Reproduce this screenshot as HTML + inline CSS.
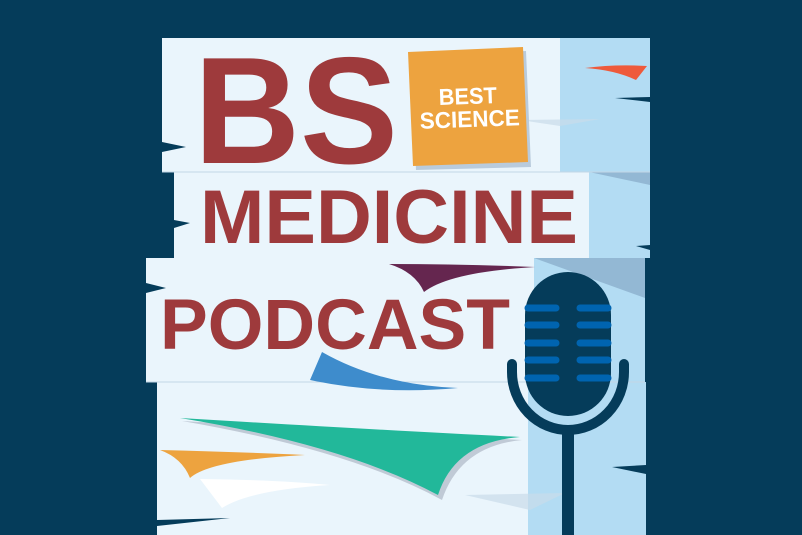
<!DOCTYPE html>
<html><head><style>html,body{margin:0;padding:0;background:#053c5a}svg{display:block}</style></head>
<body>
<svg width="802" height="535" viewBox="0 0 802 535" xmlns="http://www.w3.org/2000/svg">
<rect width="802" height="535" fill="#053c5a"/>
<rect x="157" y="382" width="489" height="153" fill="#eaf5fc"/>
<rect x="528" y="382" width="118" height="153" fill="#b3dcf3"/>
<rect x="146" y="258" width="499" height="124" fill="#eaf5fc"/>
<rect x="534" y="258" width="111" height="124" fill="#b3dcf3"/>
<polygon points="534,258 645,258 645,298" fill="#93b8d4"/>
<line x1="146" y1="382" x2="645" y2="382" stroke="#c3d6e6" stroke-width="1"/>
<rect x="174" y="172" width="476" height="86" fill="#eaf5fc"/>
<rect x="589" y="172" width="61" height="86" fill="#b3dcf3"/>
<polygon points="589,172 650,172 650,185" fill="#93b8d4"/>
<rect x="162" y="38" width="488" height="134" fill="#eaf5fc"/>
<rect x="560" y="38" width="90" height="134" fill="#b3dcf3"/>
<line x1="162" y1="172" x2="650" y2="172" stroke="#c3d6e6" stroke-width="1"/>
<polygon points="162,142 186,147 162,152" fill="#053c5a"/>
<polygon points="174,220 190,223 174,228" fill="#053c5a"/>
<polygon points="146,283 166,288 146,293" fill="#053c5a"/>
<polygon points="157,520 230,518 157,526" fill="#053c5a"/>
<polygon points="615,98 650,97 650,102" fill="#053c5a"/>
<polygon points="636,246 650,245 650,250" fill="#053c5a"/>
<polygon points="612,467 646,465 646,474" fill="#053c5a"/>
<polygon points="520,120 600,119 560,126" fill="#c9dcea" opacity="0.7"/>
<polygon points="465,495 565,493 530,510" fill="#c9dcea" opacity="0.7"/>
<path d="M585,68 Q615,64 647,66 L636,80 Q615,70 585,68Z" fill="#ee5a3b"/>
<polygon points="411,56 526,51 531,167 416,170" fill="#b9cbdc"/>
<polygon points="408,52 523,47 528,162 413,166" fill="#eda33f"/>
<text x="468" y="104" font-family="Liberation Sans, sans-serif" font-weight="bold" font-size="23" fill="#fff" text-anchor="middle" textLength="58" lengthAdjust="spacingAndGlyphs" transform="rotate(-2 468 104)">BEST</text>
<text x="470" y="127" font-family="Liberation Sans, sans-serif" font-weight="bold" font-size="23" fill="#fff" text-anchor="middle" textLength="100" lengthAdjust="spacingAndGlyphs" transform="rotate(-2 470 127)">SCIENCE</text>
<text x="194" y="163" font-family="Liberation Sans, sans-serif" font-weight="bold" font-size="152" fill="#9e3a3c" textLength="204" lengthAdjust="spacingAndGlyphs">BS</text>
<text x="200" y="243" font-family="Liberation Sans, sans-serif" font-weight="bold" font-size="76" fill="#9e3a3c" textLength="378" lengthAdjust="spacingAndGlyphs">MEDICINE</text>
<path d="M389,264 Q460,264 535,267 Q450,272 424,292 Q415,272 389,264Z" fill="#65264f"/>
<path d="M322,352 Q380,385 458,388 Q380,395 310,380Z" fill="#3e8ccc"/>
<path d="M182,421 Q380,432 522,440 Q460,446 442,500 Q350,450 182,421Z" fill="#c0cad6"/>
<path d="M180,418 Q380,430 520,437 Q455,442 438,495 Q345,445 180,418Z" fill="#22b89a"/>
<path d="M160,450 Q240,452 305,455 Q210,460 190,478 Q182,458 160,450Z" fill="#eda33f"/>
<path d="M200,479 Q280,480 330,485 Q250,490 222,508Z" fill="#ffffff"/>
<text x="160" y="349" font-family="Liberation Sans, sans-serif" font-weight="bold" font-size="71" fill="#9e3a3c" textLength="350" lengthAdjust="spacingAndGlyphs">PODCAST</text>
<rect x="525" y="272" width="86" height="144" rx="43" fill="#053c5a"/>
<g stroke="#0064b0" stroke-width="7" stroke-linecap="round">
<line x1="528" y1="308" x2="556" y2="308"/><line x1="580" y1="308" x2="608" y2="308"/>
<line x1="528" y1="325" x2="556" y2="325"/><line x1="580" y1="325" x2="608" y2="325"/>
<line x1="528" y1="343" x2="556" y2="343"/><line x1="580" y1="343" x2="608" y2="343"/>
<line x1="528" y1="360" x2="556" y2="360"/><line x1="580" y1="360" x2="608" y2="360"/>
<line x1="528" y1="378" x2="556" y2="378"/><line x1="580" y1="378" x2="608" y2="378"/>
</g>
<path d="M512,364 L512,372 A56,58 0 0 0 624,372 L624,364" fill="none" stroke="#053c5a" stroke-width="10" stroke-linecap="round"/>
<rect x="562" y="428" width="12" height="107" fill="#053c5a"/>
</svg>
</body></html>
